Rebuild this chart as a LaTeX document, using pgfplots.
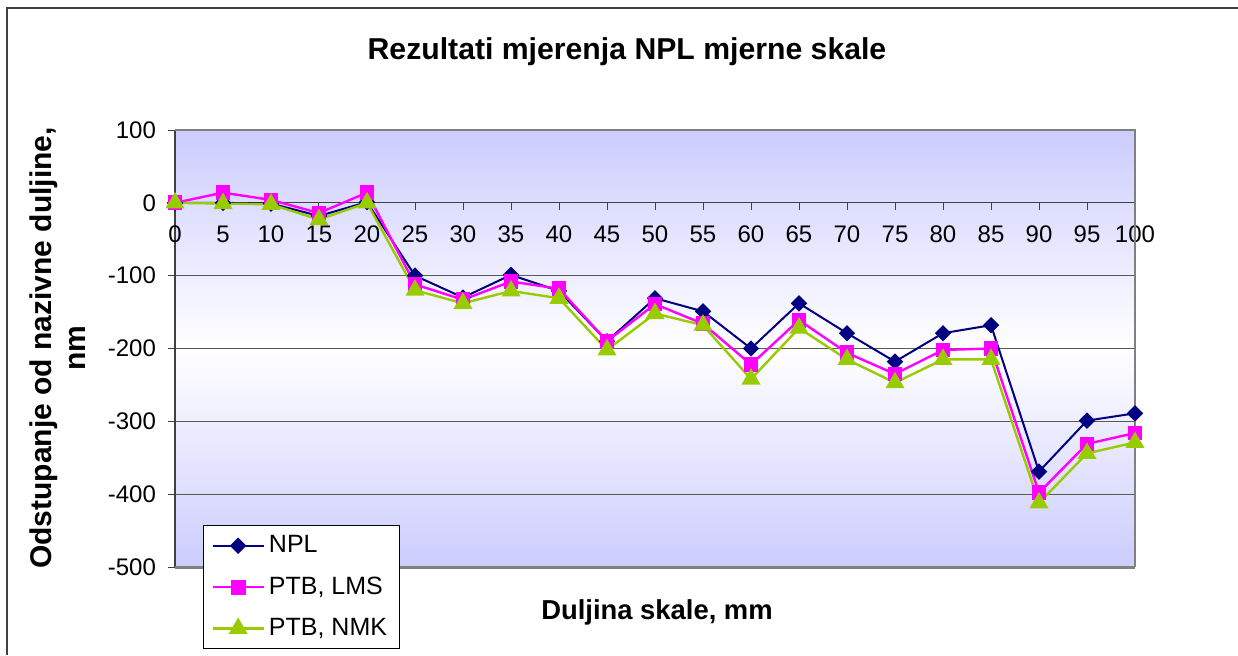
\documentclass[border=0pt]{standalone}
\usepackage{fontspec}
\setmainfont{Liberation Sans}
\usepackage{pgfplots}
\pgfplotsset{compat=1.18}
\definecolor{npl}{RGB}{0,0,128}
\definecolor{lms}{RGB}{255,0,255}
\definecolor{nmk}{RGB}{153,204,0}
\definecolor{bgl}{RGB}{204,204,255}
\begin{document}
\begin{tikzpicture}
\path[use as bounding box] (-87.5pt,-44pt) rectangle (531.5pt,283.5pt);
\draw[black!75, line width=1.2pt] (-84pt,-44pt) -- (-84pt,279.5pt) -- (531.5pt,279.5pt);
\node[font=\bfseries\fontsize{15.1}{17}\selectfont] at (226pt,257.5pt) {Rezultati mjerenja NPL mjerne skale};
\node[font=\bfseries\fontsize{13.7}{15}\selectfont] at (241pt,-22.5pt) {Duljina skale, mm};
\node[font=\bfseries\fontsize{15}{17}\selectfont, rotate=90, align=center] at (-58.5pt,109.5pt) {Odstupanje od nazivne duljine,\\nm};
\begin{axis}[
  at={(0pt,0pt)}, anchor=south west,
  scale only axis, width=480pt, height=218.5pt,
  xmin=0, xmax=100, ymin=-500, ymax=100,
  axis x line*=middle, axis y line*=left,
  hide obscured x ticks=false, hide obscured y ticks=false,
  xtick={0,5,...,100}, ytick={-500,-400,...,100},
  xtick align=outside, ytick align=outside,
  major tick length=3.5pt,
  tick style={black!75, line width=0.5pt},
  x axis line style={black!75, line width=0.5pt},
  y axis line style={black!75, line width=0.8pt},
  ymajorgrids, grid style={black!65, line width=0.5pt},
  axis background/.style={top color=bgl, bottom color=bgl, middle color=white},
  tick label style={font=\fontsize{12}{14}\selectfont},
  /pgf/number format/assume math mode=true,
  xticklabel style={yshift=-4.5pt},
  yticklabel style={xshift=-2.5pt},
  clip=false,
  legend style={at={(axis cs:2.9,-442.6)}, anchor=north west, draw=black, line width=0.5pt,
    font=\fontsize{12.5}{14}\selectfont, cells={anchor=west}, row sep=6.5pt, inner xsep=4pt, inner ysep=3pt},
  legend image code/.code={\draw[mark repeat=2,mark phase=2] plot coordinates {(0cm,0cm) (0.45cm,0cm) (0.9cm,0cm)};},
]
\draw[black!50, line width=0.8pt] (rel axis cs:0,1) -- (rel axis cs:1,1) -- (rel axis cs:1,0);
\draw[black!50, line width=1.5pt] (rel axis cs:0,0) -- (rel axis cs:1,0);
\addplot[npl, line width=1pt, mark=square*, mark size=2.4pt, mark options={rotate=45}] coordinates {
(0,0)(5,0)(10,-1)(15,-18)(20,1)(25,-100)(30,-130)(35,-99)(40,-121)(45,-190)(50,-131)(55,-149)(60,-200)(65,-138)(70,-179)(75,-218)(80,-179)(85,-168)(90,-369)(95,-299)(100,-289)};
\addlegendentry{NPL}
\addplot[lms, line width=1.2pt, mark=square*, mark size=3.1pt] coordinates {
(0,0)(5,14)(10,4)(15,-14)(20,14)(25,-112)(30,-133)(35,-108)(40,-118)(45,-190)(50,-139)(55,-166)(60,-222)(65,-161)(70,-206)(75,-235)(80,-202)(85,-200)(90,-398)(95,-331)(100,-316)};
\addlegendentry{PTB, LMS}
\addplot[nmk, line width=1.2pt, mark=triangle*, mark size=4.3pt] coordinates {
(0,0)(5,-1)(10,-2)(15,-23)(20,0)(25,-120)(30,-138)(35,-121)(40,-131)(45,-202)(50,-152)(55,-168)(60,-242)(65,-172)(70,-215)(75,-247)(80,-215)(85,-215)(90,-412)(95,-344)(100,-329)};
\addlegendentry{PTB, NMK\hspace{4pt}}
\end{axis}
\end{tikzpicture}
\end{document}
